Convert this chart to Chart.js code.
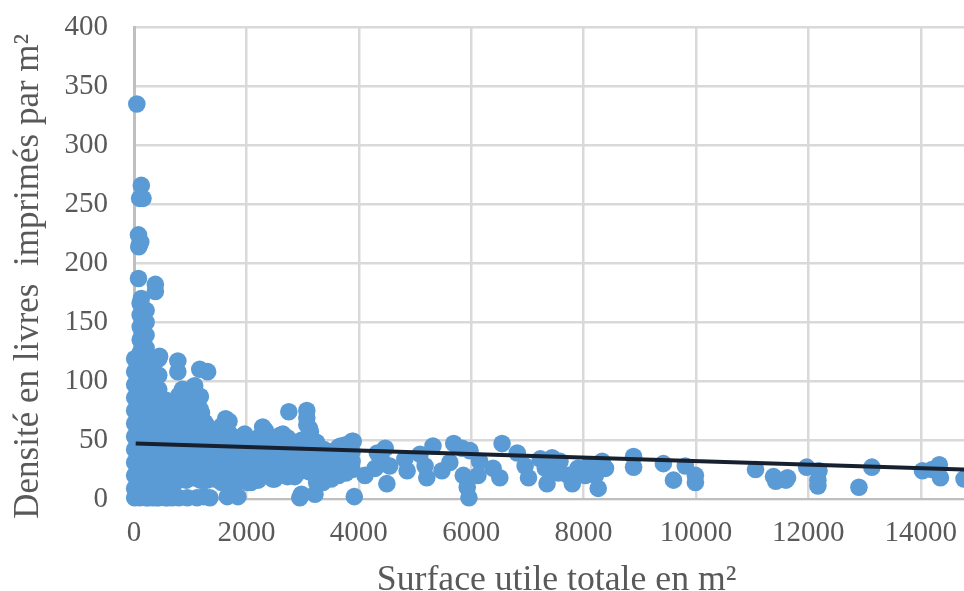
<!DOCTYPE html>
<html>
<head>
<meta charset="utf-8">
<script src="https://cdn.jsdelivr.net/npm/chart.js@4"></script>
<style>
  html, body { margin: 0; padding: 0; background: #fff; overflow: hidden; }
  #wrap { width: 964px; height: 591px; overflow: hidden; }
  canvas { filter: blur(0.5px); }
</style>
</head>
<body>
<div id="wrap"><canvas id="chart" width="988" height="591"></canvas></div>
<script>
// values
const xTitle = 'Surface utile totale en m²';
// trailing spaces: the title sits a bit lower than the middle of the plot
const yTitle = 'Densité en livres  imprimés par m²   ';
const xTicks = [0, 2000, 4000, 6000, 8000, 10000, 12000, 14000];
const yTicks = [0, 50, 100, 150, 200, 250, 300, 350, 400];

// the dense blob near the origin: one surface, several densities
const denseSurfaces = [12, 110, 215, 330, 440, 560, 680, 800, 930, 1060, 1180, 1300, 1430, 1560, 1690, 1820, 1950, 2080, 2210, 2340, 2470, 2600, 2730, 2860, 2990, 3120, 3250, 3380, 3510, 3640, 3770, 3880];
const denseDensities = [
  [119, 108, 97, 86, 75, 64, 53, 42, 31, 20, 9, 1],
  [166, 156, 146, 135, 124, 113, 102, 91, 80, 69, 58, 47, 36, 25, 14, 2],
  [160, 150, 139, 128, 117, 106, 95, 84, 73, 62, 51, 40, 29, 18, 7, 1],
  [116, 104, 92, 80, 68, 56, 44, 32, 20, 8, 1],
  [119, 105, 93, 81, 69, 57, 45, 33, 21, 9, 1],
  [84, 73, 62, 51, 40, 29, 18, 7, 1],
  [82, 75, 64, 53, 42, 31, 20, 9, 1],
  [88, 79, 68, 57, 46, 35, 24, 16],
  [92, 80, 69, 58, 47, 36, 25, 16],
  [95, 84, 73, 62, 51, 40, 29, 18],
  [87, 76, 65, 54, 43, 32, 21, 16],
  [62, 52, 42, 32, 22, 16],
  [56, 46, 36, 26, 17],
  [62, 52, 42, 32, 22, 14],
  [66, 56, 46, 36, 26, 16],
  [50, 41, 32, 23, 14],
  [54, 45, 36, 27, 17],
  [50, 41, 32, 23, 14],
  [52, 43, 34, 25, 16],
  [58, 49, 40, 31, 20],
  [50, 41, 32, 23, 17],
  [54, 45, 36, 27, 20],
  [52, 43, 34, 25, 19],
  [48, 40, 32, 24, 19],
  [50, 41, 32, 24],
  [60, 50, 41, 32, 23],
  [48, 40, 31, 22, 14],
  [42, 34, 26, 16],
  [40, 32, 24, 17],
  [44, 35, 27, 20],
  [46, 38, 30, 22],
  [49, 40, 32, 25]
];

// points that stand apart from the blob
const highSurfaces = [50, 130, 100, 160, 80, 100, 85, 120, 80, 380, 380, 130, 455, 780, 780, 1170, 1310, 1080, 860, 1170, 1200, 1260, 1630, 1630, 1970, 2290, 2650, 2755, 3075, 3075, 3075, 3140, 3900, 3680];
const highDensities = [335, 266, 255, 255, 224, 216, 214, 218, 187, 182, 176, 170, 121, 117, 108, 110, 108, 96, 93, 87, 73, 65, 68, 60, 55, 61, 55, 74, 75, 69, 63, 57, 49, 45];

const lowSurfaces = [100, 250, 400, 600, 800, 950, 1120, 1350, 1240, 1660, 1850, 2950, 2980, 3220, 3920, 2030, 2500, 2850, 3360];
const lowDensities = [1, 1, 1, 1, 1, 1, 1, 1, 2, 2, 2, 1, 4, 4, 2, 14, 17, 20, 14];

const midSurfaces = [4110, 4330, 4470, 4500, 4290, 4550, 4420, 4860, 4820, 5090, 5320, 5210, 5180, 5480, 5620, 5690, 5840, 5980, 5860, 5930, 5960, 6120, 6150, 6390, 6510, 6550, 6820, 6960, 7020, 7230, 7440, 7580, 7350, 7320, 7550, 7800, 7730, 8030, 7900, 8330, 8390, 8260, 8210, 8080];
const midDensities = [20, 39, 43, 13, 26, 28, 32, 24, 34, 38, 45, 18, 28, 24, 31, 47, 43, 41, 20, 10, 1, 20, 32, 26, 18, 47, 39, 28, 18, 34, 35, 32, 13, 26, 22, 13, 20, 20, 26, 32, 26, 9, 20, 28];

const farSurfaces = [8890, 8890, 9420, 9600, 9810, 9990, 9990, 11060, 11380, 11420, 11600, 11630, 11970, 12190, 12170, 12170, 12900, 13130, 14030, 14200, 14330, 14350, 14770];
const farDensities = [36, 27, 30, 16, 28, 20, 14, 25, 19, 15, 16, 18, 27, 24, 16, 11, 10, 27, 24, 25, 29, 18, 17];

const trendSurfaces = [30, 15040];
const trendDensities = [47, 24.5];

const xMax = 15040;
const yMax = 400;

const toPoints = (xs, ys) => xs.map((x, i) => ({ x: x, y: ys[i] }));

let cloud = [];
denseSurfaces.forEach((x, i) => {
  denseDensities[i].forEach(y => cloud.push({ x: x, y: y }));
});
cloud = cloud.concat(
  toPoints(highSurfaces, highDensities),
  toPoints(lowSurfaces, lowDensities),
  toPoints(midSurfaces, midDensities),
  toPoints(farSurfaces, farDensities)
);

const textColor = '#595959';
const gridColor = '#d9d9d9';
const fontName = '"Liberation Serif", serif';

new Chart(document.getElementById('chart').getContext('2d'), {
  type: 'scatter',
  data: {
    datasets: [
      {
        label: 'Tendance',
        type: 'line',
        data: toPoints(trendSurfaces, trendDensities),
        borderColor: '#17202e',
        borderWidth: 4,
        pointRadius: 0,
        fill: false,
        clip: false,
        order: 0
      },
      {
        label: 'Densité',
        data: cloud,
        backgroundColor: '#5b9bd5',
        borderColor: '#5b9bd5',
        borderWidth: 0,
        pointRadius: 8.8,
        clip: false,
        order: 1
      }
    ]
  },
  options: {
    responsive: false,
    animation: false,
    layout: { padding: { top: 25, right: 0, bottom: 0, left: 0 } },
    plugins: { legend: { display: false }, tooltip: { enabled: false } },
    scales: {
      x: {
        type: 'linear',
        min: 0,
        max: xMax,
        afterBuildTicks: s => { s.ticks = xTicks.map(v => ({ value: v })); },
        afterFit: s => { s.height = 92; },
        ticks: {
          autoSkip: false,
          maxRotation: 0,
          padding: 17,
          color: textColor,
          callback: v => String(v),
          font: { family: fontName, size: 29 }
        },
        grid: { color: gridColor, lineWidth: 2.5, drawTicks: false },
        border: { color: '#bfbfbf', width: 2 },
        title: {
          display: true,
          text: xTitle,
          color: textColor,
          padding: { top: 0, bottom: -11 },
          font: { family: fontName, size: 35.7 }
        }
      },
      y: {
        min: 0,
        max: yMax,
        afterBuildTicks: s => { s.ticks = yTicks.map(v => ({ value: v })); },
        afterFit: s => { s.width = 134; },
        ticks: {
          padding: 10,
          color: textColor,
          callback: v => String(v),
          font: { family: fontName, size: 29 }
        },
        grid: { color: gridColor, lineWidth: 2.5, tickLength: 16, tickColor: 'transparent' },
        border: { color: '#bfbfbf', width: 3 },
        title: {
          display: true,
          text: yTitle,
          color: textColor,
          padding: { top: 8, bottom: 0 },
          font: { family: fontName, size: 35 }
        }
      }
    }
  }
});
</script>
</body>
</html>
